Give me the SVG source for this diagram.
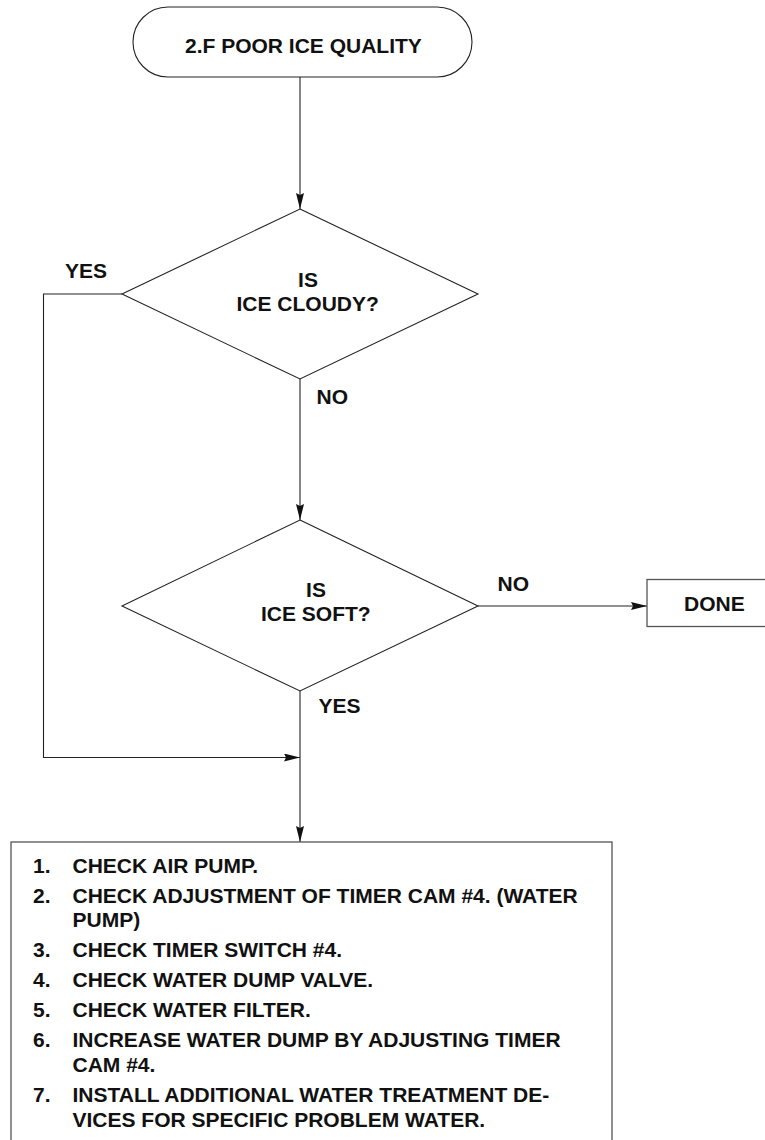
<svg xmlns="http://www.w3.org/2000/svg" width="765" height="1140" viewBox="0 0 765 1140">
<style>
text{font-family:"Liberation Sans",Arial,sans-serif;font-weight:bold;font-size:21px;fill:#111}
.shape{fill:#fff;stroke:#222;stroke-width:1.1}
.box{fill:#fff;stroke:#555;stroke-width:1.3}
.conn{fill:none;stroke:#222;stroke-width:1.1}
.mid{text-anchor:middle}
</style>
<defs>
<marker id="arr" markerUnits="userSpaceOnUse" markerWidth="17" markerHeight="9" refX="16" refY="4" orient="auto">
<path d="M0,0 L16,4 L0,8 L2,4 z" fill="#111"/>
</marker>
</defs>
<rect width="765" height="1140" fill="#fff"/>
<g id="connectors">
<path class="conn" d="M300,77 V209" marker-end="url(#arr)"/>
<path class="conn" d="M122,294 H43.5 V757.5 H300" marker-end="url(#arr)"/>
<path class="conn" d="M300,379 V520" marker-end="url(#arr)"/>
<path class="conn" d="M478,606 H647" marker-end="url(#arr)"/>
<path class="conn" d="M300,691 V842" marker-end="url(#arr)"/>
</g>
<g id="start">
<rect class="shape" x="133" y="7" width="339" height="70" rx="35" ry="35"/>
<text x="185" y="53">2.F POOR ICE QUALITY</text>
</g>
<g id="q-cloudy">
<polygon class="shape" points="300,209 478,294 300,379 122,294"/>
<text class="mid" x="308" y="287">IS</text>
<text x="236.5" y="311">ICE CLOUDY?</text>
</g>
<g id="labels">
<text x="65" y="278">YES</text>
<text x="316.5" y="404">NO</text>
<text x="497.5" y="591">NO</text>
<text x="318.5" y="713">YES</text>
</g>
<g id="q-soft">
<polygon class="shape" points="300,520 478,606 300,691 122,606"/>
<text class="mid" x="316" y="597">IS</text>
<text x="261" y="621">ICE SOFT?</text>
</g>
<g id="done">
<rect class="box" x="647" y="579.5" width="130" height="47"/>
<text x="684" y="611">DONE</text>
</g>
<g id="actions">
<rect class="box" x="11" y="842" width="601" height="320"/>
<text x="33" y="873">1.</text><text x="72.5" y="873">CHECK AIR PUMP.</text>
<text x="33" y="903">2.</text><text x="72.5" y="903">CHECK ADJUSTMENT OF TIMER CAM #4. (WATER</text>
<text x="72.5" y="927">PUMP)</text>
<text x="33" y="957">3.</text><text x="72.5" y="957">CHECK TIMER SWITCH #4.</text>
<text x="33" y="987">4.</text><text x="72.5" y="987">CHECK WATER DUMP VALVE.</text>
<text x="33" y="1017">5.</text><text x="72.5" y="1017">CHECK WATER FILTER.</text>
<text x="33" y="1047">6.</text><text x="72.5" y="1047">INCREASE WATER DUMP BY ADJUSTING TIMER</text>
<text x="72.5" y="1072">CAM #4.</text>
<text x="33" y="1102">7.</text><text x="72.5" y="1102">INSTALL ADDITIONAL WATER TREATMENT DE-</text>
<text x="72.5" y="1127">VICES FOR SPECIFIC PROBLEM WATER.</text>
</g>
</svg>
